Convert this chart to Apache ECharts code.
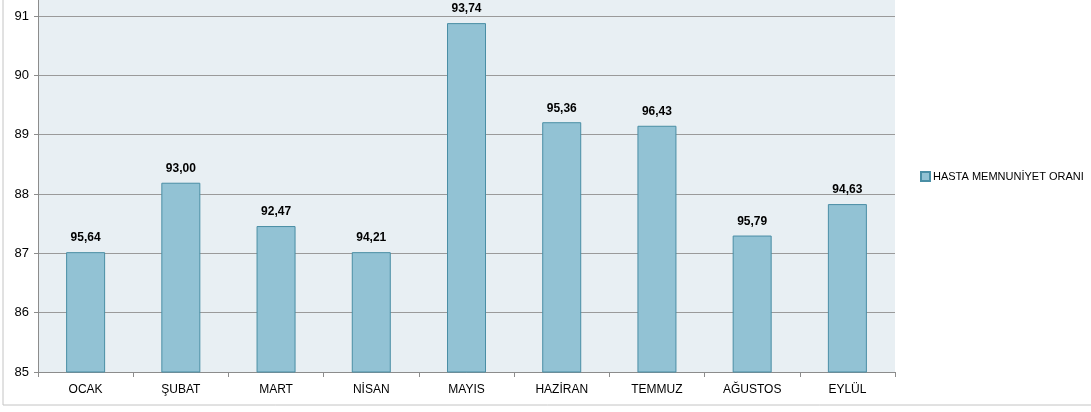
<!DOCTYPE html>
<html>
<head>
<meta charset="utf-8">
<script src="https://cdn.jsdelivr.net/npm/echarts@6/dist/echarts.min.js"></script>
<style>
html, body { margin: 0; padding: 0; background: #fff; }
#chart { width: 1091px; height: 412px; }
</style>
</head>
<body>
<div id="chart"></div>
<script>
// months on the x axis
const months = ["OCAK", "ŞUBAT", "MART", "NİSAN", "MAYIS", "HAZİRAN", "TEMMUZ", "AĞUSTOS", "EYLÜL"];
// bar heights as drawn in the picture
const barValues = [87.02, 88.19, 87.46, 87.02, 90.88, 89.21, 89.15, 87.30, 87.83];
// numbers printed above each bar
const barLabels = ["95,64", "93,00", "92,47", "94,21", "93,74", "95,36", "96,43", "95,79", "94,63"];
const seriesName = "HASTA MEMNUNİYET ORANI";

const font = "'Liberation Sans', 'DejaVu Sans', sans-serif";
const chart = echarts.init(document.getElementById("chart"));

chart.setOption({
    animation: false,
    textStyle: { fontFamily: font },
    graphic: [
        {
            type: "rect",
            z: -10,
            shape: { x: 3, y: -5, width: 1100, height: 410 },
            style: { fill: "#fff", stroke: "#c4c4c4", lineWidth: 1 }
        },
        {
            type: "rect",
            z: -5,
            shape: { x: 38, y: 0, width: 857, height: 16 },
            style: { fill: "#e8eff3" }
        },
        {
            type: "line",
            z: 5,
            shape: { x1: 38.5, y1: 0, x2: 38.5, y2: 16 },
            style: { stroke: "#8c8c8c", lineWidth: 1 }
        }
    ],
    legend: {
        left: 915,
        top: 166,
        itemWidth: 9,
        itemHeight: 9,
        itemGap: 4,
        textStyle: { fontSize: 11, color: "#000", fontFamily: font, padding: [0, 0, 0, -2] },
        data: [{ name: seriesName, icon: "rect" }]
    },
    grid: {
        left: 38,
        right: 196,
        top: 16,
        bottom: 40,
        show: true,
        backgroundColor: "#e8eff3",
        borderWidth: 0
    },
    xAxis: {
        type: "category",
        data: months,
        axisLine: { lineStyle: { color: "#8c8c8c" } },
        axisTick: { show: true, length: 5, lineStyle: { color: "#8c8c8c" } },
        axisLabel: { color: "#000", fontSize: 12, margin: 12, fontFamily: font }
    },
    yAxis: {
        type: "value",
        min: 85,
        max: 91,
        interval: 1,
        axisLine: { show: true, lineStyle: { color: "#8c8c8c" } },
        axisTick: { show: true, length: 4, lineStyle: { color: "#8c8c8c" } },
        axisLabel: { color: "#000", fontSize: 13, margin: 9, fontFamily: font },
        splitLine: { lineStyle: { color: "#9a9a9a", width: 1 } }
    },
    series: [
        {
            name: seriesName,
            type: "bar",
            data: barValues,
            barWidth: 39,
            itemStyle: { color: "#92c2d4", borderColor: "#4a8ea5", borderWidth: 1 },
            label: {
                show: true,
                position: "top",
                distance: 8,
                fontWeight: "bold",
                fontSize: 12,
                color: "#000",
                fontFamily: font,
                formatter: function (p) {
                    return barLabels[p.dataIndex];
                }
            }
        }
    ]
});
</script>
</body>
</html>
